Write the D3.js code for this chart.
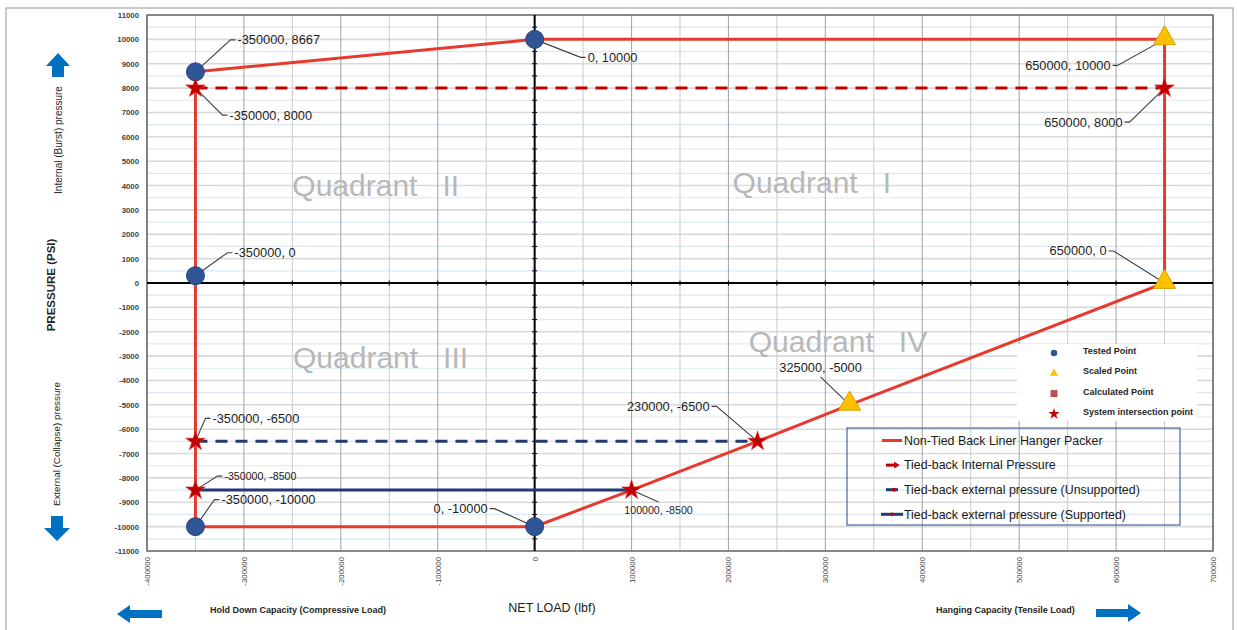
<!DOCTYPE html>
<html><head><meta charset="utf-8">
<script src="https://cdn.jsdelivr.net/npm/d3@7"></script>
<style>body{margin:0;background:#fff}svg{display:block;font-family:"Liberation Sans",Arial,sans-serif}</style>
</head><body><svg id="c" width="1237" height="630"></svg>
<script>
// ---------- data ----------
const xTickValues = [-400000,-300000,-200000,-100000,0,100000,200000,300000,400000,500000,600000,700000];
const xTickLabels = ["-400000","-300000","-200000","-100000","0","100000","200000","300000","400000","500000","600000","700000"];
const yTickValues = [11000,10000,9000,8000,7000,6000,5000,4000,3000,2000,1000,0,-1000,-2000,-3000,-4000,-5000,-6000,-7000,-8000,-9000,-10000,-11000];
const yTickLabels = ["11000","10000","9000","8000","7000","6000","5000","4000","3000","2000","1000","0","-1000","-2000","-3000","-4000","-5000","-6000","-7000","-8000","-9000","-10000","-11000"];

// Non-Tied Back Liner Hanger Packer envelope
const packerX = [-350000, 0, 650000, 650000, 325000, 230000, 100000, 0, -350000, -350000];
const packerY = [8667, 10000, 10000, 0, -5000, -6500, -8500, -10000, -10000, 8667];
// Tied-back internal pressure
const internalX = [-350000, 650000];
const internalY = [8000, 8000];
// Tied-back external pressure (unsupported)
const unsupX = [-350000, 230000];
const unsupY = [-6500, -6500];
// Tied-back external pressure (supported)
const supX = [-350000, 100000];
const supY = [-8500, -8500];

// markers
const testedX = [-350000, 0, -350000, -350000, 0];
const testedY = [8667, 10000, 300, -10000, -10000];
const scaledX = [650000, 650000, 325000];
const scaledY = [10000, 0, -5000];
const starX = [-350000, 650000, -350000, -350000, 230000, 100000];
const starY = [8000, 8000, -6500, -8500, -6500, -8500];

// annotations
const annoX = [-350000, 0, -350000, 650000, 650000, 650000, -350000, 325000, 230000, -350000, -350000, -350000, 0, 100000];
const annoY = [8667, 10000, 8000, 10000, 8000, 0, 300, -5000, -6500, -6500, -8500, -10000, -10000, -8500];
const annoText = ["-350000, 8667","0, 10000","-350000, 8000","650000, 10000","650000, 8000","650000, 0","-350000, 0","325000, -5000","230000, -6500","-350000, -6500","-350000, -8500","-350000, -10000","0, -10000","100000, -8500"];

const quadrantNames = ["Quadrant   II","Quadrant   I","Quadrant   III","Quadrant   IV"];
const markerLegend = ["Tested Point","Scaled Point","Calculated Point","System intersection point"];
const lineLegend = ["Non-Tied Back Liner Hanger Packer","Tied-back Internal Pressure","Tied-back external pressure (Unsupported)","Tied-back external pressure (Supported)"];

// ---------- layout ----------
const annoLayout = [
 {dx:42, dy:-32, a:"start"}, {dx:53, dy:18, a:"start"}, {dx:34, dy:27, a:"start"},
 {dx:-54, dy:26, a:"end"}, {dx:-42, dy:34, a:"end"}, {dx:-58, dy:-32, a:"end"},
 {dx:39, dy:-23, a:"start"}, {dx:-29, dy:-37, a:"middle", ey:-28},
 {dx:-48, dy:-35, a:"end"}, {dx:17, dy:-23, a:"start"},
 {dx:29, dy:-14, a:"start", fs:10.6}, {dx:26, dy:-27, a:"start"},
 {dx:-47, dy:-18, a:"end"}, {dx:27, dy:20, a:"middle", fs:10.6, ey:12}
];
const quadrantPos = [[-164000, 3570],[286000, 3700],[-159000,-3490],[313000,-2830]];

const RED = "#e8392f", DRED = "#c00000", NAVY = "#1f3b70", BLUE = "#0070c0";
const svg = d3.select("#c");
const x = d3.scaleLinear().domain([-400000, 700000]).range([147, 1213]);
const y = d3.scaleLinear().domain([-11000, 11000]).range([551, 15]);

// outer frame
svg.append("rect").attr("x",6).attr("y",8).attr("width",1227).attr("height",640)
  .attr("fill","none").attr("stroke","#a6a6a6").attr("stroke-width",1.2);

// grid
const g = svg.append("g");
d3.range(-11000, 11001, 500).forEach(v => {
  const major = v % 1000 === 0;
  g.append("line").attr("x1",147).attr("x2",1213).attr("y1",y(v)).attr("y2",y(v))
   .attr("stroke", major ? "#d9d9d9" : "#dde7f3").attr("stroke-width", major ? 1.6 : 1.2);
});
d3.range(-400000, 700001, 50000).forEach(v => {
  const major = v % 100000 === 0;
  g.append("line").attr("y1",15).attr("y2",551).attr("x1",x(v)).attr("x2",x(v))
   .attr("stroke", major ? "#a9a9a9" : "#cfcfcf").attr("stroke-width", 1.1);
});

// plot border
svg.append("rect").attr("x",147).attr("y",15).attr("width",1066).attr("height",536)
  .attr("fill","none").attr("stroke","#595959").attr("stroke-width",1.3);

// axes tick labels
const yAxis = svg.append("g").attr("transform","translate(147,0)")
  .call(d3.axisLeft(y).tickValues(yTickValues).tickFormat((d,i)=>yTickLabels[i]).tickSize(0).tickPadding(8));
yAxis.select(".domain").remove();
yAxis.selectAll("text").attr("font-size",7.8).attr("font-weight","bold").attr("fill","#404040")
  .attr("font-family","'Liberation Sans',Arial,sans-serif");
const xAxis = svg.append("g").attr("transform","translate(0,551)")
  .call(d3.axisBottom(x).tickValues(xTickValues).tickFormat((d,i)=>xTickLabels[i]).tickSize(0));
xAxis.select(".domain").remove();
xAxis.selectAll("text").attr("font-size",7.8).attr("fill","#404040")
  .attr("font-family","'Liberation Sans',Arial,sans-serif")
  .attr("transform","rotate(-90)").attr("text-anchor","end").attr("x",-6).attr("y",0).attr("dy","0.32em");

// zero axes
svg.append("line").attr("x1",147).attr("x2",1213).attr("y1",y(0)).attr("y2",y(0)).attr("stroke","#000").attr("stroke-width",2);
svg.append("line").attr("x1",x(0)).attr("x2",x(0)).attr("y1",15).attr("y2",551).attr("stroke","#000").attr("stroke-width",2);
d3.range(-350000, 700000, 50000).forEach(v => svg.append("line").attr("x1",x(v)).attr("x2",x(v)).attr("y1",y(0)-2.5).attr("y2",y(0)+2.5).attr("stroke","#000"));
d3.range(-10500, 11000, 500).forEach(v => svg.append("line").attr("y1",y(v)).attr("y2",y(v)).attr("x1",x(0)-2.5).attr("x2",x(0)+2.5).attr("stroke","#000"));

// quadrant labels
quadrantNames.forEach((t,i) => svg.append("text").attr("x",x(quadrantPos[i][0])).attr("y",y(quadrantPos[i][1]))
  .attr("text-anchor","middle").attr("font-size",30).attr("fill","#b8b8b8").style("white-space","pre").text(t));

// lines
const line = d3.line().x(d=>x(d[0])).y(d=>y(d[1]));
const zipXY = (a,b) => a.map((v,i)=>[v,b[i]]);
svg.append("path").attr("d", line(zipXY(packerX,packerY))).attr("fill","none").attr("stroke",RED).attr("stroke-width",3);
svg.append("path").attr("d", line(zipXY(internalX,internalY))).attr("fill","none").attr("stroke",DRED).attr("stroke-width",3).attr("stroke-dasharray","12,8");
svg.append("path").attr("d", line(zipXY(unsupX,unsupY))).attr("fill","none").attr("stroke",NAVY).attr("stroke-width",3).attr("stroke-dasharray","12,8");
svg.append("path").attr("d", line(zipXY(supX,supY))).attr("fill","none").attr("stroke",NAVY).attr("stroke-width",3);

// leader lines & annotation texts
annoText.forEach((t,i) => {
  const L = annoLayout[i], px = x(annoX[i]), py = y(annoY[i]);
  const tx = px + L.dx, ty = py + L.dy;
  let pts;
  if (L.a === "start") pts = [[px,py],[tx-7,ty],[tx-2,ty]];
  else if (L.a === "end") pts = [[px,py],[tx+7,ty],[tx+2,ty]];
  else pts = [[px,py],[tx,py+L.ey]];
  svg.append("path").attr("d", d3.line()(pts)).attr("fill","none").attr("stroke","#404040").attr("stroke-width",1.1);
  svg.append("text").attr("x",tx).attr("y",ty).attr("dy","0.35em").attr("text-anchor",L.a)
    .attr("font-size",L.fs||12.8).attr("fill","#1e1e1e").text(t);
});

// markers
svg.selectAll(".tested").data(zipXY(testedX,testedY)).enter().append("circle")
  .attr("cx",d=>x(d[0])).attr("cy",d=>y(d[1])).attr("r",9).attr("fill","#2f5597").attr("stroke","#23467f").attr("stroke-width",1);
svg.selectAll(".scaled").data(zipXY(scaledX,scaledY)).enter().append("path")
  .attr("d", d3.symbol(d3.symbolTriangle, 210)).attr("transform",d=>`translate(${x(d[0])},${y(d[1])-1})`)
  .attr("fill","#ffc000").attr("stroke","#d4a000").attr("stroke-width",1);
svg.selectAll(".star").data(zipXY(starX,starY)).enter().append("path")
  .attr("d", d3.symbol(d3.symbolStar, 120)).attr("transform",d=>`translate(${x(d[0])},${y(d[1])})`)
  .attr("fill",DRED).attr("stroke","#e03030").attr("stroke-width",0.6);

// marker legend
svg.append("rect").attr("x",1017).attr("y",344).attr("width",180).attr("height",77).attr("fill","#fff");
markerLegend.forEach((t,i) => {
  const yy = 351 + i*20.3;
  if (i===0) svg.append("circle").attr("cx",1054).attr("cy",yy+2).attr("r",3.2).attr("fill","#2f5597");
  if (i===1) svg.append("path").attr("d",d3.symbol(d3.symbolTriangle,30)).attr("transform",`translate(1054,${yy+2})`).attr("fill","#ffc000");
  if (i===2) svg.append("rect").attr("x",1050.5).attr("y",yy-1.5).attr("width",7).attr("height",7).attr("fill","#b5524f");
  if (i===3) svg.append("path").attr("d",d3.symbol(d3.symbolStar,40)).attr("transform",`translate(1054,${yy+2})`).attr("fill",DRED);
  svg.append("text").attr("x",1083).attr("y",yy).attr("dy","0.35em").attr("font-size",9).attr("font-weight","bold").attr("fill","#262626").text(t);
});

// line legend
svg.append("rect").attr("x",847).attr("y",428).attr("width",333).attr("height",97).attr("fill","none").attr("stroke","#4a659c").attr("stroke-width",1.2);
lineLegend.forEach((t,i) => {
  const yy = 440.5 + i*24.6;
  if (i===0) svg.append("line").attr("x1",882).attr("x2",902).attr("y1",yy).attr("y2",yy).attr("stroke",RED).attr("stroke-width",3);
  if (i===1) { svg.append("line").attr("x1",886).attr("x2",896).attr("y1",yy).attr("y2",yy).attr("stroke",DRED).attr("stroke-width",3);
               svg.append("path").attr("d",d3.symbol(d3.symbolTriangle,20)).attr("transform",`translate(896,${yy}) rotate(90)`).attr("fill",DRED); }
  if (i===2) { svg.append("line").attr("x1",886).attr("x2",898).attr("y1",yy).attr("y2",yy).attr("stroke",NAVY).attr("stroke-width",3);
               svg.append("circle").attr("cx",894).attr("cy",yy).attr("r",2).attr("fill",DRED); }
  if (i===3) { svg.append("line").attr("x1",881).attr("x2",903).attr("y1",yy).attr("y2",yy).attr("stroke",NAVY).attr("stroke-width",3);
               svg.append("circle").attr("cx",892).attr("cy",yy).attr("r",1.8).attr("fill",DRED); }
  svg.append("text").attr("x",904).attr("y",yy).attr("dy","0.35em").attr("font-size",12.4).attr("fill","#1a1a1a").text(t);
});

// side labels
const vtext = (t, cx, cy, fs, bold) => svg.append("text").attr("transform",`translate(${cx},${cy}) rotate(-90)`)
  .attr("text-anchor","middle").attr("dy","0.35em").attr("font-size",fs).attr("font-weight",bold?"bold":"normal").attr("fill","#262626").text(t);
vtext("Internal (Burst) pressure", 58, 140, 10, false);
vtext("PRESSURE (PSI)", 51, 285, 11.5, true);
vtext("External (Collapse) pressure", 57, 444, 9.8, false);

svg.append("text").attr("x",210).attr("y",610).attr("dy","0.35em").attr("font-size",9).attr("font-weight","bold").attr("fill","#262626").text("Hold Down Capacity (Compressive Load)");
svg.append("text").attr("x",552).attr("y",608).attr("dy","0.35em").attr("text-anchor","middle").attr("font-size",12.5).attr("fill","#1a1a1a").text("NET LOAD (lbf)");
svg.append("text").attr("x",936).attr("y",610).attr("dy","0.35em").attr("font-size",9).attr("font-weight","bold").attr("fill","#262626").text("Hanging Capacity (Tensile Load)");

// blue arrows
const arrow = (pts) => svg.append("path").attr("d", d3.line()(pts) + "Z").attr("fill",BLUE);
arrow([[58,53],[70,66],[64,66],[64,77],[52,77],[52,66],[46,66]]);
arrow([[57,541],[70,528],[63,528],[63,516],[51,516],[51,528],[44,528]]);
arrow([[117,614],[130,605],[130,610],[162,610],[162,618],[130,618],[130,623]]);
arrow([[1141,613],[1128,604],[1128,609],[1096,609],[1096,617],[1128,617],[1128,622]]);
</script></body></html>
